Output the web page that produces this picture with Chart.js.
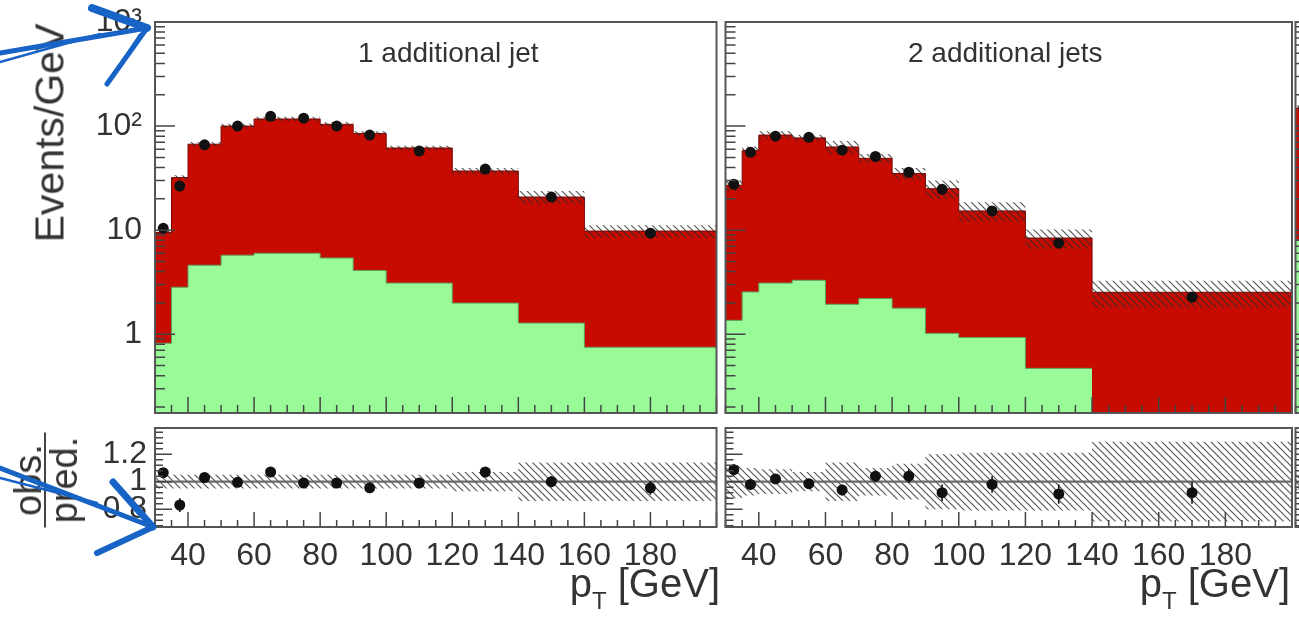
<!DOCTYPE html>
<html>
<head>
<meta charset="utf-8">
<script src="https://cdn.jsdelivr.net/npm/chart.js@4.4.1/dist/chart.umd.min.js"></script>
<style>
  body { margin:0; background:#fff; }
  #wrap { position:relative; width:1299px; height:627px; overflow:hidden; background:#fff;
          font-family:"Liberation Sans", Arial, sans-serif; color:#333; }
  #wrap canvas { position:absolute; }
  .lbl { position:absolute; white-space:nowrap; }
</style>
</head>
<body>
<div id="wrap">
  <canvas id="top1" width="722" height="420" style="left:0;top:0;width:722px;height:420px"></canvas>
  <canvas id="top2" width="579" height="420" style="left:720px;top:0;width:579px;height:420px"></canvas>
  <canvas id="top3" width="580" height="420" style="left:1290px;top:0;width:580px;height:420px"></canvas>
  <canvas id="rat1" width="722" height="207" style="left:0;top:420px;width:722px;height:207px"></canvas>
  <canvas id="rat2" width="579" height="207" style="left:720px;top:420px;width:579px;height:207px"></canvas>
  <canvas id="rat3" width="580" height="207" style="left:1290px;top:420px;width:580px;height:207px"></canvas>

  <div class="lbl" style="left:358px;top:37px;font-size:28px">1 additional jet</div>
  <div class="lbl" style="left:908px;top:37px;font-size:28px">2 additional jets</div>

  <div class="lbl" style="left:50px;top:133px;font-size:41px;transform:translate(-50%,-50%) rotate(-90deg)">Events/GeV</div>

  <div class="lbl" style="left:46px;top:480px;transform:translate(-50%,-50%) rotate(-90deg);text-align:center;font-size:38px;line-height:30px">
    <div style="width:95px;border-bottom:2.5px solid #444;padding-bottom:1px">obs.</div>
    <div style="width:95px;padding-top:3px">pred.</div>
  </div>

  <div class="lbl" style="right:579px;top:563px;font-size:40px;line-height:40px">p<span style="font-size:24px;position:relative;top:12px">T</span> [GeV]</div>
  <div class="lbl" style="right:9px;top:563px;font-size:40px;line-height:40px">p<span style="font-size:24px;position:relative;top:12px">T</span> [GeV]</div>

  <!-- hand drawn arrows on top of the plot -->
  <svg width="1299" height="627" style="position:absolute;left:0;top:0" fill="none" stroke="#1763c6" stroke-linecap="round">
    <path d="M0 53 L147 28" stroke-width="5"/>
    <path d="M0 62 L100 34" stroke-width="2.5"/>
    <path d="M92 8 L147 28" stroke-width="8"/>
    <path d="M147 28 L107 84" stroke-width="5"/>
    <path d="M140 34 L110 80" stroke-width="2"/>
    <path d="M0 468 L153 527" stroke-width="5"/>
    <path d="M0 478 L97 503" stroke-width="2.5"/>
    <path d="M113 482 L153 527" stroke-width="7"/>
    <path d="M153 527 L97 553" stroke-width="6"/>
  </svg>
</div>

<script>
// bin edges in GeV
var edges1 = [30, 35, 40, 50, 60, 70, 80, 90, 100, 120, 140, 160, 200];
var edges2 = [30, 35, 40, 50, 60, 70, 80, 90, 100, 120, 140, 200];
var edges3 = [30, 35];

// 1 additional jet : total prediction (red on top), green component, data
var total1 = [9.5, 32, 67, 100, 117, 117, 104, 85, 61.6, 37, 20.8, 9.8];
var green1 = [0.82, 2.83, 4.6, 5.75, 6.0, 6.0, 5.4, 4.1, 3.1, 1.99, 1.28, 0.75];
var obs1   = [10.4, 26.5, 66, 100, 124, 119, 100, 82, 57.6, 38.6, 20.8, 9.35];
var ratio1 = [1.065, 0.83, 1.03, 0.995, 1.07, 0.99, 0.99, 0.955, 0.99, 1.07, 1.0, 0.955];
var err1   = [0.03, 0.05, 0.02, 0.02, 0.02, 0.02, 0.02, 0.02, 0.02, 0.03, 0.04, 0.05];
var unc1   = [0.05, 0.05, 0.05, 0.05, 0.05, 0.05, 0.05, 0.05, 0.05, 0.07, 0.14, 0.14];

// 2 additional jets
var total2 = [27, 58, 82, 77, 63, 49, 35, 25, 15.3, 8.4, 2.53];
var green2 = [1.36, 2.55, 3.1, 3.3, 1.94, 2.2, 1.78, 1.02, 0.93, 0.47, null];
var obs2   = [27.6, 56, 80, 78, 58.6, 51, 36, 24.7, 15.3, 7.5, 2.27];
var ratio2 = [1.087, 0.98, 1.02, 0.985, 0.94, 1.04, 1.04, 0.92, 0.98, 0.91, 0.92];
var err2   = [0.04, 0.04, 0.03, 0.03, 0.04, 0.04, 0.05, 0.06, 0.06, 0.07, 0.08];
var unc2   = [0.12, 0.1, 0.09, 0.07, 0.14, 0.1, 0.13, 0.2, 0.21, 0.21, 0.29];

// next panel, only its first bin is inside the picture
var total3 = [149];
var green3 = [8.0];
var obs3   = [150];
var ratio3 = [0.955];
var err3   = [0.03];
var unc3   = [0.06];

// axis ticks
var xTickValues = [40, 60, 80, 100, 120, 140, 160, 180];
var yTickValues = [1, 10, 100, 1000];
var yTickLabels = ['1', '10', '10\u00b2', '10\u00b3'];
var rTickValues = [0.8, 1, 1.2];
var rTickLabels = ['0.8', '1', '1.2'];
var unity = 1;

var RED = '#c80b00', GREEN = '#98fb98';
var FONT = '"Liberation Sans", Arial, sans-serif';

// histogram outline: one point per left edge plus the last right edge
function steps(edges, vals) {
  var pts = [], last = -1;
  for (var i = 0; i < vals.length; i++) {
    if (vals[i] == null) break;
    pts.push({x: edges[i], y: vals[i]});
    last = i;
  }
  if (last >= 0) pts.push({x: edges[last + 1], y: vals[last]});
  return pts;
}
function centers(edges, vals) {
  return vals.map(function(v, i) { return {x: (edges[i] + edges[i + 1]) / 2, y: v}; });
}

// ROOT style hatching
var hatch = (function() {
  var c = document.createElement('canvas');
  c.width = c.height = 7;
  var g = c.getContext('2d');
  g.strokeStyle = 'rgba(45,45,45,0.8)';
  g.lineWidth = 1.2;
  g.beginPath();
  g.moveTo(0, 0); g.lineTo(7, 7);
  g.moveTo(-1, 6); g.lineTo(1, 8);
  g.moveTo(6, -1); g.lineTo(8, 1);
  g.stroke();
  return g.createPattern(c, 'repeat');
})();

// ticks drawn inside the frame, plus the frame itself
function frameTicks(xt, yt) {
  return {
    id: 'frameTicks',
    afterDraw: function(chart) {
      var ctx = chart.ctx, a = chart.chartArea, x = chart.scales.x, y = chart.scales.y;
      ctx.save();
      ctx.strokeStyle = '#444';
      ctx.lineWidth = 1.5;
      ctx.beginPath();
      xt.forEach(function(t) {
        var px = x.getPixelForValue(t.v);
        ctx.moveTo(px, a.bottom); ctx.lineTo(px, a.bottom - t.len);
      });
      yt.forEach(function(t) {
        var py = y.getPixelForValue(t.v);
        ctx.moveTo(a.left, py); ctx.lineTo(a.left + t.len, py);
      });
      ctx.stroke();
      ctx.strokeStyle = '#555';
      ctx.lineWidth = 2;
      ctx.strokeRect(a.left, a.top, a.right - a.left, a.bottom - a.top);
      ctx.restore();
    }
  };
}

// vertical error bars on the data points
var errorBars = {
  id: 'errorBars',
  afterDatasetsDraw: function(chart) {
    var ctx = chart.ctx, y = chart.scales.y;
    chart.data.datasets.forEach(function(ds, di) {
      if (!ds.errors) return;
      var meta = chart.getDatasetMeta(di);
      ctx.save();
      ctx.strokeStyle = '#111';
      ctx.lineWidth = 1.6;
      ctx.beginPath();
      meta.data.forEach(function(pt, i) {
        var v = ds.data[i].y, e = ds.errors[i];
        ctx.moveTo(pt.x, y.getPixelForValue(v - e));
        ctx.lineTo(pt.x, y.getPixelForValue(v + e));
      });
      ctx.stroke();
      ctx.restore();
    });
  }
};

function xTicks(maj, min) {
  var t = [];
  for (var v = 30; v <= 200; v += 5) t.push({v: v, len: (v % 20 === 0) ? maj : min});
  return t;
}
function logTicks(lo, hi, maj, min) {
  var t = [];
  for (var e = -1; e <= 3; e++) {
    for (var k = 1; k <= 9; k++) {
      var v = k * Math.pow(10, e);
      if (v >= lo && v <= hi) t.push({v: v, len: k === 1 ? maj : min});
    }
  }
  return t;
}
function ratioTicks(maj, min) {
  var t = [];
  for (var i = 17; i <= 34; i++) t.push({v: i * 0.04, len: (i % 5 === 0) ? maj : min});
  return t;
}

// y axis box: fixed width, no extra room for the end labels
function fitY(showY) {
  return function(s) {
    if (showY) s.width = 155;
    s.paddingTop = 0;
    s.paddingBottom = 0;
  };
}
function fitX(h) {
  return function(s) {
    s.height = h;
    s.paddingLeft = 0;
    s.paddingRight = 0;
  };
}

var YMIN = 0.175, YMAX = 1000, RMIN = 0.67, RMAX = 1.39;

function topChart(id, padL, padR, showY, edges, total, green, unc, obs) {
  var hi = total.map(function(t, i) { return t * (1 + unc[i]); });
  var lo = total.map(function(t, i) { return t * (1 - unc[i]); });
  return new Chart(document.getElementById(id), {
    type: 'line',
    data: {
      datasets: [
        {data: centers(edges, obs), showLine: false, pointRadius: 5.5, pointBackgroundColor: '#111', pointBorderWidth: 0, order: 0},
        {data: steps(edges, hi), stepped: true, fill: '+1', backgroundColor: hatch, borderColor: 'rgba(0,0,0,0)', borderWidth: 0, pointRadius: 0, order: 1},
        {data: steps(edges, lo), stepped: true, fill: false, borderColor: 'rgba(0,0,0,0)', borderWidth: 0, pointRadius: 0, order: 2},
        {data: steps(edges, green), stepped: true, fill: 'start', backgroundColor: GREEN, borderColor: '#5f9f5f', borderWidth: 1, pointRadius: 0, order: 3},
        {data: steps(edges, total), stepped: true, fill: 'start', backgroundColor: RED, borderColor: '#7a0500', borderWidth: 1, pointRadius: 0, order: 4}
      ]
    },
    options: {
      responsive: false, animation: false, devicePixelRatio: 1,
      layout: {padding: {top: 22, bottom: 7, left: padL, right: padR}},
      plugins: {legend: {display: false}, tooltip: {enabled: false}},
      scales: {
        x: {type: 'linear', min: 30, max: 200, display: false},
        y: {
          type: 'logarithmic', min: YMIN, max: YMAX, display: showY,
          grid: {display: false, drawTicks: false}, border: {display: false},
          ticks: {padding: 13, color: '#333', font: {family: FONT, size: 32},
                  callback: function(v, i) { return yTickLabels[i]; }},
          afterBuildTicks: function(s) { s.ticks = yTickValues.map(function(v) { return {value: v}; }); },
          afterFit: fitY(showY)
        }
      }
    },
    plugins: [frameTicks(xTicks(16, 8), logTicks(YMIN, YMAX, 20, 10))]
  });
}

function ratioChart(id, padL, padR, showY, edges, ratio, err, unc) {
  return new Chart(document.getElementById(id), {
    type: 'line',
    data: {
      datasets: [
        {data: centers(edges, ratio), errors: err, showLine: false, pointRadius: 5.5, pointBackgroundColor: '#111', pointBorderWidth: 0, order: 0},
        {data: [{x: 30, y: unity}, {x: 200, y: unity}], borderColor: '#6a6a6a', borderWidth: 2.2, pointRadius: 0, fill: false, order: 1},
        {data: steps(edges, unc.map(function(u) { return unity + u; })), stepped: true, fill: '+1', backgroundColor: hatch, borderColor: 'rgba(0,0,0,0)', borderWidth: 0, pointRadius: 0, order: 2},
        {data: steps(edges, unc.map(function(u) { return unity - u; })), stepped: true, fill: false, borderColor: 'rgba(0,0,0,0)', borderWidth: 0, pointRadius: 0, order: 3}
      ]
    },
    options: {
      responsive: false, animation: false, devicePixelRatio: 1,
      layout: {padding: {top: 8, bottom: 0, left: padL, right: padR}},
      plugins: {legend: {display: false}, tooltip: {enabled: false}},
      scales: {
        x: {
          type: 'linear', min: 30, max: 200,
          grid: {display: false, drawTicks: false}, border: {display: false},
          ticks: {padding: 10, autoSkip: false, maxRotation: 0, color: '#333', font: {family: FONT, size: 32}},
          afterBuildTicks: function(s) { s.ticks = xTickValues.map(function(v) { return {value: v}; }); },
          afterFit: fitX(100)
        },
        y: {
          type: 'linear', min: RMIN, max: RMAX, display: showY,
          grid: {display: false, drawTicks: false}, border: {display: false},
          ticks: {padding: 8, color: '#333', font: {family: FONT, size: 32},
                  callback: function(v, i) { return rTickLabels[i]; }},
          afterBuildTicks: function(s) { s.ticks = rTickValues.map(function(v) { return {value: v}; }); },
          afterFit: fitY(showY)
        }
      }
    },
    plugins: [frameTicks(xTicks(15, 7), ratioTicks(17, 8)), errorBars]
  });
}

topChart('top1', 0, 0, true, edges1, total1, green1, unc1, obs1);
topChart('top2', 2, 7, false, edges2, total2, green2, unc2, obs2);
topChart('top3', 3, 7, false, edges3, total3, green3, unc3, obs3);
ratioChart('rat1', 0, 0, true, edges1, ratio1, err1, unc1);
ratioChart('rat2', 2, 7, false, edges2, ratio2, err2, unc2);
ratioChart('rat3', 3, 7, false, edges3, ratio3, err3, unc3);
</script>
</body>
</html>
